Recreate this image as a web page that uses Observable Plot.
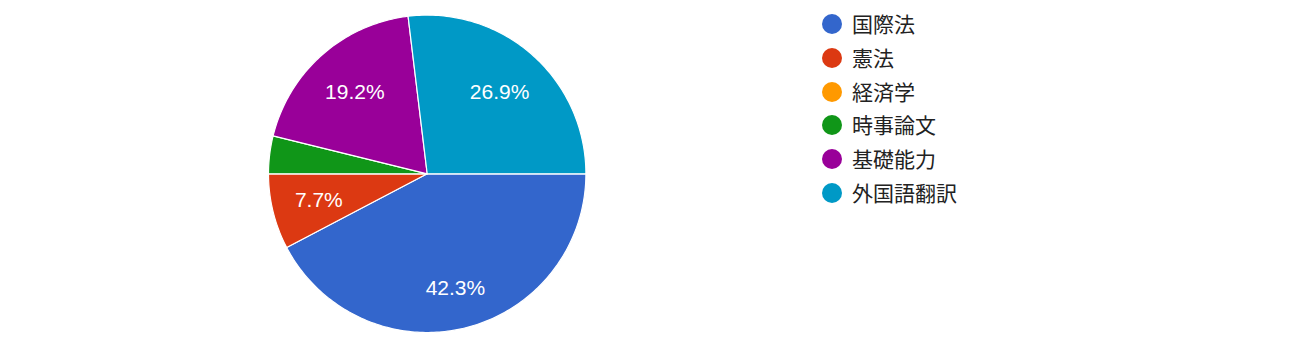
<!DOCTYPE html>
<html>
<head>
<meta charset="utf-8">
<script src="https://cdn.jsdelivr.net/npm/d3@7"></script>
<script src="https://cdn.jsdelivr.net/npm/@observablehq/plot@0.6"></script>
<style>
  html, body { margin: 0; padding: 0; background: #fff; }
  #wrap { position: relative; width: 1299px; height: 340px; }
  #wrap svg { display: block; }
  #legend { position: absolute; left: 822px; top: 7.5px; font-family: "Noto Sans CJK JP", "Noto Sans", sans-serif; font-size: 21px; color: #222; }
  .row { display: flex; align-items: center; height: 33.7px; }
  .sw { width: 20px; height: 20px; border-radius: 50%; margin-right: 10px; flex: none; }
  .lt { position: relative; top: -1px; }
</style>
</head>
<body>
<div id="wrap"><div id="legend"></div></div>
<script>
const categories = ["国際法", "憲法", "経済学", "時事論文", "基礎能力", "外国語翻訳"];
const counts = [11, 2, 0, 1, 5, 7];
const colors = ["#3366cc", "#dc3912", "#ff9900", "#109618", "#990099", "#0099c6"];

const total = d3.sum(counts);
const labelFont = "21px 'Liberation Sans', Arial, sans-serif";
const radiusPx = 158.7;
const ctx = document.createElement("canvas").getContext("2d");
ctx.font = labelFont;

// Build slice polygons (unit radius, angle 0 = 3 o'clock, clockwise)
const slicePts = [];
const labels = [];
let acc = 0;
categories.forEach((cat, i) => {
  const v = counts[i];
  const a0 = acc / total * 2 * Math.PI;
  acc += v;
  const a1 = acc / total * 2 * Math.PI;
  if (v <= 0) return;
  slicePts.push({cat, x: 0, y: 0});
  const n = Math.max(2, Math.ceil((a1 - a0) / (Math.PI / 180)));
  for (let k = 0; k <= n; k++) {
    const a = a0 + (a1 - a0) * k / n;
    slicePts.push({cat, x: Math.cos(a), y: Math.sin(a)});
  }
  const share = v / total;
  if (share >= 0.05) {
    const text = (share * 100).toFixed(1) + "%";
    const am = (a0 + a1) / 2;
    const c = Math.abs(Math.cos(am)), s = Math.abs(Math.sin(am));
    const w = ctx.measureText(text).width / 2 / radiusPx;
    const h = 10 / radiusPx;
    const R = 0.865;
    const b = w * c + h * s;
    const d = -b + Math.sqrt(b * b - (w * w + h * h - R * R));
    labels.push({cat, text, x: d * Math.cos(am), y: d * Math.sin(am)});
  }
});

const chart = Plot.plot({
  width: 1299,
  height: 340,
  marginLeft: 268,
  marginRight: 713.6,
  marginTop: 14.6,
  marginBottom: 8,
  x: {domain: [-1, 1], axis: null},
  y: {domain: [-1, 1], reverse: true, axis: null},
  color: {domain: categories, range: colors},
  marks: [
    Plot.line(slicePts, {x: "x", y: "y", z: "cat", fill: "cat", stroke: "#fff", strokeWidth: 1.2, curve: "linear-closed"}),
    Plot.text(labels, {x: "x", y: "y", text: "text", fill: "#fff", fontSize: 21, fontFamily: "'Liberation Sans', Arial, sans-serif"})
  ]
});
document.getElementById("wrap").prepend(chart);

const legend = document.getElementById("legend");
categories.forEach((cat, i) => {
  const row = document.createElement("div");
  row.className = "row";
  const sw = document.createElement("span");
  sw.className = "sw";
  sw.style.background = colors[i];
  const t = document.createElement("span");
  t.className = "lt";
  t.textContent = cat;
  row.append(sw, t);
  legend.append(row);
});
</script>
</body>
</html>
